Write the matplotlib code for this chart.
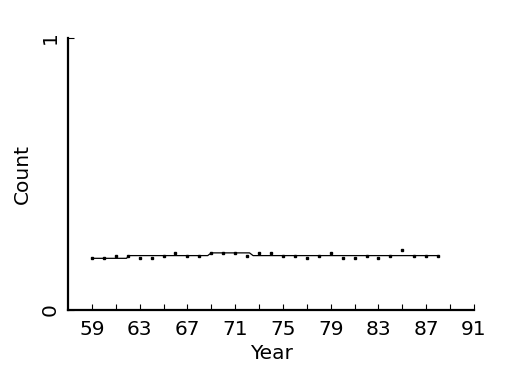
import matplotlib
matplotlib.use("Agg")
import matplotlib.pyplot as plt

# yearly counts
years = list(range(59, 89))
counts = [0.19, 0.19, 0.20, 0.20, 0.19, 0.19, 0.20, 0.21, 0.20, 0.20,
          0.21, 0.21, 0.21, 0.20, 0.21, 0.21, 0.20, 0.20, 0.19, 0.20,
          0.21, 0.19, 0.19, 0.20, 0.19, 0.20, 0.22, 0.20, 0.20, 0.20]

# smoothed trend line breakpoints
smooth_x = [59, 61.9, 62.1, 68.7, 69.0, 72.2, 72.5, 88]
smooth_y = [0.19, 0.19, 0.20, 0.20, 0.21, 0.21, 0.20, 0.20]

xticks = list(range(59, 92, 2))
xlabels = [str(t) if (t - 59) % 4 == 0 else "" for t in xticks]

fs = 14.5

fig = plt.figure(figsize=(5.25, 3.75), dpi=100)
ax = fig.add_axes([68 / 525, 65 / 375, 406 / 525, 272 / 375])

ax.plot(smooth_x, smooth_y, color="black", linewidth=0.9)
ax.plot(years, counts, linestyle="none", marker="s", markersize=1.6,
        color="black")

ax.set_xlim(57, 91)
ax.set_ylim(0, 1)

ax.set_xticks(xticks)
ax.set_xticklabels(xlabels, fontsize=fs)
ax.set_yticks([0, 1])
ax.set_yticklabels(["0", "1"], fontsize=fs, rotation=90, va="center")

ax.tick_params(axis="both", direction="in", length=4, width=0.8, colors="black")
ax.tick_params(axis="x", pad=7)
ax.tick_params(axis="y", pad=6)

for side in ("top", "right"):
    ax.spines[side].set_visible(False)
for side in ("left", "bottom"):
    ax.spines[side].set_linewidth(1.6)

ax.set_xlabel("Year", fontsize=fs, labelpad=4)
ax.set_ylabel("Count", fontsize=fs, labelpad=6)

fig.savefig("out.png", dpi=100)
